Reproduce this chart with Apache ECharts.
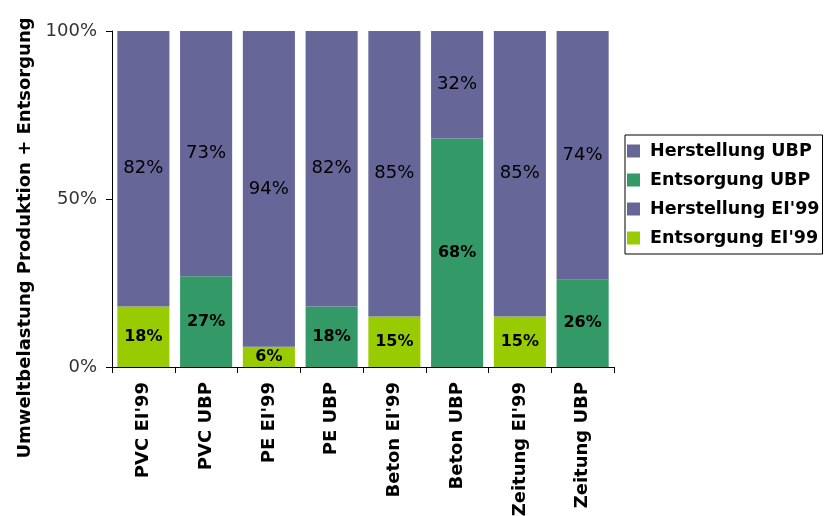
<!DOCTYPE html>
<html>
<head>
<meta charset="utf-8">
<script src="https://cdn.jsdelivr.net/npm/echarts@6/dist/echarts.min.js"></script>
<style>
  html, body { margin: 0; padding: 0; background: #fff; }
  #chart { width: 826px; height: 516px; }
</style>
</head>
<body>
<div id="chart"></div>
<script>
// Categories: material + assessment method
const categories = ["PVC EI'99", "PVC UBP", "PE EI'99", "PE UBP", "Beton EI'99", "Beton UBP", "Zeitung EI'99", "Zeitung UBP"];

// Shares in percent (production vs. disposal), '-' where the method does not apply
const herstellungUBP   = ['-', 73, '-', 82, '-', 32, '-', 74];
const entsorgungUBP    = ['-', 27, '-', 18, '-', 68, '-', 26];
const herstellungEI99  = [82, '-', 94, '-', 85, '-', 85, '-'];
const entsorgungEI99   = [18, '-', 6, '-', 15, '-', 15, '-'];

const yTicks = [0, 50, 100];

const FONT = '"DejaVu Sans", Verdana, sans-serif';
const PURPLE = '#666699';
const GREEN = '#339966';
const LIME = '#99CC00';

const chart = echarts.init(document.getElementById('chart'), null, { renderer: 'canvas' });

function seg(name, data, color, bold) {
  return {
    name: name,
    type: 'bar',
    stack: 'total',
    data: data,
    barCategoryGap: '17%',
    itemStyle: { color: color },
    label: {
      show: true,
      position: 'inside',
      formatter: '{c}%',
      color: '#000',
      fontFamily: FONT,
      fontSize: bold ? 16 : 18,
      fontWeight: bold ? 'bold' : 'normal'
    },
    emphasis: { disabled: true }
  };
}

chart.setOption({
  animation: false,
  backgroundColor: '#fff',
  grid: { left: 112, right: 212, top: 31, bottom: 149, containLabel: false, outerBoundsMode: 'none' },
  legend: {
    orient: 'vertical',
    left: 625,
    top: 135,
    padding: [6, 3, 6, 2],
    itemGap: 9,
    itemWidth: 13,
    itemHeight: 13,
    icon: 'rect',
    borderColor: '#000',
    borderWidth: 1,
    borderRadius: 0,
    textStyle: { fontFamily: FONT, fontSize: 17.5, fontWeight: 'bold', color: '#000', lineHeight: 20, padding: [0, 0, 0, 5] },
    data: ['Herstellung UBP', 'Entsorgung UBP', "Herstellung EI'99", "Entsorgung EI'99"]
  },
  xAxis: {
    type: 'category',
    data: categories,
    axisLine: { lineStyle: { color: '#000', width: 1 } },
    axisTick: { show: true, length: 6, lineStyle: { color: '#000' } },
    axisLabel: {
      rotate: 90,
      interval: 0,
      margin: 15,
      fontFamily: FONT,
      fontSize: 18,
      fontWeight: 'bold',
      color: '#000'
    },
    splitLine: { show: false }
  },
  yAxis: {
    type: 'value',
    min: yTicks[0],
    max: yTicks[yTicks.length - 1],
    interval: yTicks[1] - yTicks[0],
    axisLine: { show: true, lineStyle: { color: '#000', width: 1 } },
    axisTick: { show: true, length: 6, lineStyle: { color: '#000' } },
    axisLabel: {
      formatter: '{value}%',
      margin: 15,
      fontFamily: FONT,
      fontSize: 18,
      color: '#333'
    },
    splitLine: { show: false }
  },
  graphic: [{
    type: 'text',
    rotation: Math.PI / 2,
    x: 25,
    y: 238,
    style: {
      text: 'Umweltbelastung Produktion + Entsorgung',
      fontFamily: FONT,
      fontSize: 18,
      fontWeight: 'bold',
      fill: '#000',
      textAlign: 'center',
      textVerticalAlign: 'middle'
    }
  }],
  series: [
    seg('Entsorgung UBP', entsorgungUBP, GREEN, true),
    seg("Entsorgung EI'99", entsorgungEI99, LIME, true),
    seg('Herstellung UBP', herstellungUBP, PURPLE, false),
    seg("Herstellung EI'99", herstellungEI99, PURPLE, false)
  ]
});
</script>
</body>
</html>
